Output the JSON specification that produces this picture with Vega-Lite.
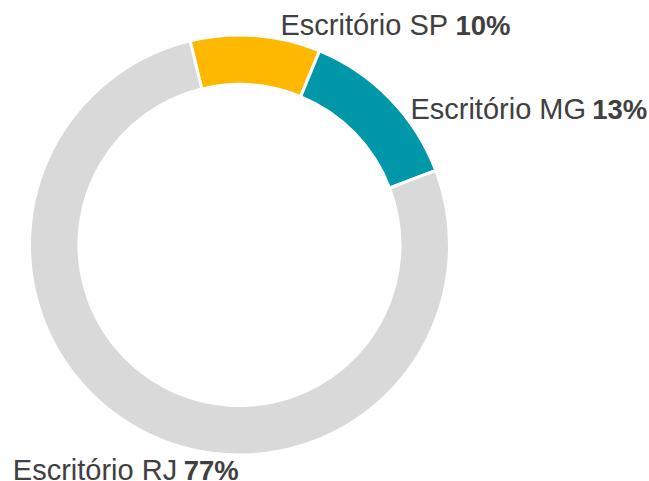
{
  "$schema": "https://vega.github.io/schema/vega-lite/v6.json",
  "autosize": "none",
  "width": 479,
  "height": 490,
  "padding": {"left": 0, "top": 0, "right": 170, "bottom": 0},
  "background": "white",
  "view": {"stroke": null},
  "config": {"text": {"font": "Liberation Sans", "fontSize": 29, "color": "#404040", "fill": "#404040", "baseline": "alphabetic", "align": "left"}},
  "data": {"values": [
    {"nome": "Escritório SP", "valor": 0.10, "ordem": 1},
    {"nome": "Escritório MG", "valor": 0.13, "ordem": 2},
    {"nome": "Escritório RJ", "valor": 0.77, "ordem": 3}
  ]},
  "encoding": {
    "theta": {"field": "valor", "type": "quantitative", "stack": true, "scale": {"range": [-0.2374, 6.0458]}},
    "order": {"field": "ordem", "type": "quantitative"}
  },
  "layer": [
    {
      "mark": {"type": "arc", "innerRadius": 160.5, "outerRadius": 210, "stroke": "white", "strokeWidth": 3},
      "encoding": {
        "color": {"field": "nome", "type": "nominal", "legend": null,
          "scale": {"domain": ["Escritório SP", "Escritório MG", "Escritório RJ"], "range": ["#FFB800", "#0097A9", "#D9D9D9"]}}
      }
    },
    {
      "mark": {"type": "text", "radius": 215, "dx": 24.5, "dy": 4.4},
      "encoding": {"detail": {"field": "nome"}, "text": {"condition": {"test": "datum.nome === 'Escritório SP'", "field": "nome"}, "value": ""}}
    },
    {
      "mark": {"type": "text", "radius": 215, "dx": 199.5, "dy": 4.4, "fontWeight": "bold", "fontSize": 27.5},
      "encoding": {"detail": {"field": "nome"}, "text": {"condition": {"test": "datum.nome === 'Escritório SP'", "field": "valor", "format": ".0%"}, "value": ""}}
    },
    {
      "mark": {"type": "text", "radius": 215, "dx": 16.8, "dy": 23.9},
      "encoding": {"detail": {"field": "nome"}, "text": {"condition": {"test": "datum.nome === 'Escritório MG'", "field": "nome"}, "value": ""}}
    },
    {
      "mark": {"type": "text", "radius": 215, "dx": 198.5, "dy": 23.9, "fontWeight": "bold", "fontSize": 27.5},
      "encoding": {"detail": {"field": "nome"}, "text": {"condition": {"test": "datum.nome === 'Escritório MG'", "field": "valor", "format": ".0%"}, "value": ""}}
    },
    {
      "mark": {"type": "text", "radius": 215, "dx": -126.4, "dy": 45},
      "encoding": {"detail": {"field": "nome"}, "text": {"condition": {"test": "datum.nome === 'Escritório RJ'", "field": "nome"}, "value": ""}}
    },
    {
      "mark": {"type": "text", "radius": 215, "dx": 44.5, "dy": 45, "fontWeight": "bold", "fontSize": 27.5},
      "encoding": {"detail": {"field": "nome"}, "text": {"condition": {"test": "datum.nome === 'Escritório RJ'", "field": "valor", "format": ".0%"}, "value": ""}}
    }
  ]
}
